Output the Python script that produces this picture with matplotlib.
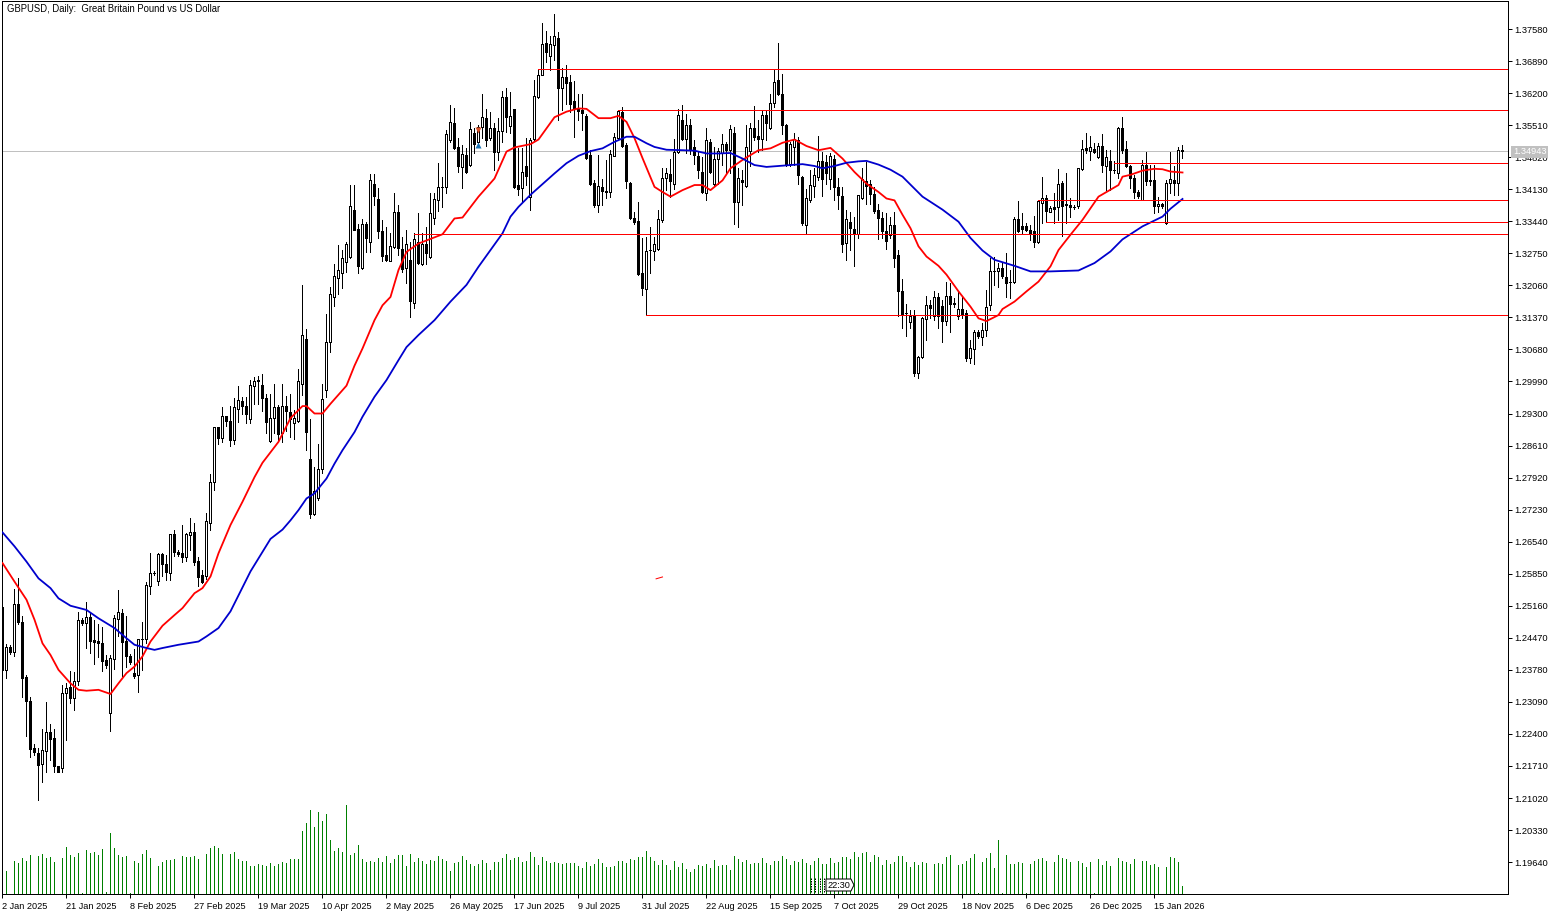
import matplotlib
matplotlib.use("Agg")
import matplotlib.pyplot as plt
from matplotlib.patches import Polygon
from matplotlib.transforms import IdentityTransform

W, H = 1561, 915
plt.rcParams['font.family'] = ['Liberation Sans', 'DejaVu Sans']

title = "GBPUSD, Daily:  Great Britain Pound vs US Dollar"

opens = [
1.2513,1.2377,1.2427,1.2416,1.2519,1.2481,1.2362,1.2310,1.2210,1.2198,
1.2176,1.2204,1.2244,1.2231,1.2170,1.2166,1.2328,1.2340,1.2317,1.2353,
1.2486,1.2478,1.2491,1.2442,1.2440,1.2435,1.2399,1.2285,1.2401,1.2487,
1.2501,1.2441,1.2408,1.2371,1.2366,1.2444,1.2445,1.2559,1.2586,1.2570,
1.2628,1.2606,1.2586,1.2670,1.2631,1.2629,1.2622,1.2669,1.2674,1.2613,
1.2583,1.2580,1.2695,1.2783,1.2900,1.2877,1.2924,1.2913,1.2872,1.2940,
1.2956,1.2946,1.2918,1.2990,1.3002,1.2991,1.2964,1.2871,1.2921,1.2943,
1.2887,1.2946,1.2933,1.2910,1.2914,1.2994,1.3090,1.2831,1.2714,1.2749,
1.2811,1.2980,1.3085,1.3180,1.3221,1.3233,1.3257,1.3266,1.3368,1.3328,
1.3244,1.3338,1.3300,1.3425,1.3392,1.3323,1.3271,1.3259,1.3289,1.3364,
1.3285,1.3244,1.3260,1.3167,1.3300,1.3252,1.3296,1.3266,1.3352,1.3390,
1.3417,1.3418,1.3520,1.3555,1.3503,1.3460,1.3487,1.3465,1.3533,1.3515,
1.3548,1.3566,1.3524,1.3544,1.3494,1.3539,1.3611,1.3550,1.3586,1.3422,
1.3415,1.3462,1.3397,1.3521,1.3612,1.3658,1.3727,1.3700,1.3724,1.3738,
1.3630,1.3654,1.3643,1.3603,1.3587,1.3584,1.3571,1.3487,1.3426,1.3378,
1.3418,1.3409,1.3408,1.3485,1.3523,1.3580,1.3508,1.3426,1.3352,1.3344,
1.3232,1.3199,1.3283,1.3280,1.3285,1.3346,1.3438,1.3445,1.3425,1.3493,
1.3563,1.3521,1.3551,1.3503,1.3484,1.3449,1.3405,1.3515,1.3425,1.3477,
1.3490,1.3511,1.3497,1.3533,1.3386,1.3432,1.3420,1.3496,1.3544,1.3527,
1.3521,1.3572,1.3545,1.3598,1.3648,1.3619,1.3552,1.3467,1.3504,1.3519,
1.3440,1.3336,1.3389,1.3420,1.3440,1.3473,1.3472,1.3436,1.3479,1.3417,
1.3398,1.3298,1.3343,1.3328,1.3316,1.3395,1.3431,1.3424,1.3402,1.3368,
1.3350,1.3323,1.3314,1.3335,1.3272,1.3193,1.3146,1.3126,1.3141,1.3018,
1.3051,1.3134,1.3164,1.3139,1.3180,1.3162,1.3130,1.3184,1.3169,1.3140,
1.3155,1.3146,1.3049,1.3069,1.3106,1.3094,1.3109,1.3163,1.3237,1.3236,
1.3244,1.3223,1.3213,1.3213,1.3348,1.3334,1.3334,1.3326,1.3324,1.3300,
1.3384,1.3394,1.3365,1.3374,1.3374,1.3427,1.3380,1.3378,1.3374,1.3377,
1.3456,1.3501,1.3496,1.3499,1.3483,1.3506,1.3463,1.3474,1.3455,1.3448,
1.3544,1.3499,1.3463,1.3437,1.3408,1.3390,1.3465,1.3433,1.3433,1.3376,
1.3381,1.3341,1.3427,1.3433,1.3426,1.3498]

highs = [
1.2513,1.2434,1.2432,1.2552,1.2575,1.2493,1.2367,1.2320,1.2219,1.2209,
1.2250,1.2308,1.2262,1.2250,1.2170,1.2346,1.2349,1.2376,1.2374,1.2502,
1.2489,1.2524,1.2500,1.2486,1.2477,1.2470,1.2410,1.2410,1.2496,1.2550,
1.2509,1.2493,1.2412,1.2422,1.2444,1.2482,1.2567,1.2629,1.2590,1.2629,
1.2629,1.2626,1.2670,1.2679,1.2635,1.2690,1.2672,1.2705,1.2694,1.2622,
1.2593,1.2715,1.2799,1.2900,1.2901,1.2943,1.2924,1.2946,1.2964,1.2989,
1.2966,1.2966,1.3002,1.3009,1.3010,1.3015,1.2971,1.2973,1.2993,1.2948,
1.2993,1.2967,1.2971,1.2938,1.3025,1.3206,1.3113,1.2919,1.2814,1.2864,
1.2994,1.3145,1.3203,1.3252,1.3292,1.3282,1.3300,1.3422,1.3422,1.3339,
1.3348,1.3343,1.3445,1.3445,1.3415,1.3346,1.3332,1.3318,1.3404,1.3379,
1.3310,1.3325,1.3300,1.3318,1.3361,1.3318,1.3332,1.3404,1.3404,1.3469,
1.3440,1.3541,1.3594,1.3587,1.3523,1.3508,1.3501,1.3558,1.3544,1.3552,
1.3618,1.3585,1.3580,1.3555,1.3566,1.3625,1.3632,1.3623,1.3586,1.3501,
1.3501,1.3523,1.3523,1.3648,1.3671,1.3770,1.3754,1.3742,1.3790,1.3752,
1.3675,1.3680,1.3659,1.3647,1.3619,1.3619,1.3576,1.3497,1.3433,1.3487,
1.3436,1.3476,1.3497,1.3535,1.3584,1.3589,1.3512,1.3429,1.3365,1.3386,
1.3307,1.3311,1.3332,1.3311,1.3368,1.3458,1.3458,1.3477,1.3522,1.3585,
1.3595,1.3575,1.3565,1.3519,1.3493,1.3483,1.3544,1.3522,1.3504,1.3501,
1.3532,1.3515,1.3551,1.3547,1.3458,1.3455,1.3551,1.3556,1.3592,1.3562,
1.3583,1.3583,1.3619,1.3669,1.3727,1.3661,1.3554,1.3515,1.3534,1.3526,
1.3441,1.3414,1.3454,1.3458,1.3527,1.3493,1.3486,1.3490,1.3486,1.3438,
1.3418,1.3368,1.3364,1.3353,1.3400,1.3458,1.3472,1.3432,1.3418,1.3382,
1.3364,1.3361,1.3353,1.3364,1.3282,1.3219,1.3166,1.3153,1.3153,1.3054,
1.3137,1.3182,1.3175,1.3193,1.3189,1.3175,1.3214,1.3211,1.3178,1.3193,
1.3182,1.3153,1.3089,1.3110,1.3110,1.3124,1.3196,1.3265,1.3268,1.3254,
1.3254,1.3275,1.3239,1.3354,1.3387,1.3361,1.3340,1.3336,1.3356,1.3390,
1.3440,1.3401,1.3376,1.3404,1.3456,1.3430,1.3448,1.3394,1.3379,1.3458,
1.3519,1.3534,1.3527,1.3512,1.3512,1.3532,1.3498,1.3498,1.3473,1.3548,
1.3568,1.3516,1.3465,1.3444,1.3412,1.3476,1.3494,1.3465,1.3465,1.3397,
1.3384,1.3432,1.3494,1.3462,1.3504,1.3509]

lows = [
1.2378,1.2361,1.2412,1.2408,1.2477,1.2320,1.2236,1.2191,1.2195,1.2098,
1.2137,1.2157,1.2184,1.2159,1.2159,1.2159,1.2227,1.2306,1.2292,1.2346,
1.2475,1.2426,1.2414,1.2391,1.2405,1.2376,1.2381,1.2247,1.2379,1.2450,
1.2364,1.2385,1.2391,1.2361,1.2331,1.2378,1.2435,1.2542,1.2582,1.2561,
1.2580,1.2572,1.2572,1.2623,1.2623,1.2611,1.2613,1.2635,1.2604,1.2559,
1.2566,1.2573,1.2679,1.2765,1.2864,1.2869,1.2903,1.2859,1.2865,1.2912,
1.2930,1.2910,1.2910,1.2950,1.2951,1.2936,1.2887,1.2869,1.2887,1.2871,
1.2869,1.2893,1.2880,1.2876,1.2912,1.2969,1.2851,1.2706,1.2711,1.2743,
1.2802,1.2966,1.3063,1.3161,1.3188,1.3201,1.3235,1.3264,1.3325,1.3233,
1.3242,1.3278,1.3278,1.3379,1.3307,1.3259,1.3259,1.3259,1.3287,1.3271,
1.3235,1.3210,1.3138,1.3158,1.3251,1.3250,1.3253,1.3264,1.3339,1.3366,
1.3375,1.3404,1.3515,1.3499,1.3449,1.3415,1.3447,1.3462,1.3492,1.3505,
1.3523,1.3507,1.3519,1.3454,1.3476,1.3515,1.3537,1.3533,1.3415,1.3400,
1.3386,1.3422,1.3368,1.3519,1.3609,1.3658,1.3688,1.3670,1.3691,1.3562,
1.3584,1.3597,1.3580,1.3526,1.3562,1.3540,1.3479,1.3422,1.3375,1.3365,
1.3379,1.3395,1.3397,1.3484,1.3520,1.3503,1.3416,1.3349,1.3339,1.3228,
1.3185,1.3142,1.3232,1.3260,1.3282,1.3343,1.3411,1.3397,1.3414,1.3491,
1.3519,1.3490,1.3488,1.3467,1.3438,1.3404,1.3389,1.3448,1.3422,1.3425,
1.3465,1.3447,1.3447,1.3339,1.3332,1.3379,1.3418,1.3463,1.3519,1.3493,
1.3497,1.3519,1.3542,1.3590,1.3616,1.3531,1.3463,1.3463,1.3465,1.3425,
1.3336,1.3319,1.3386,1.3397,1.3432,1.3398,1.3425,1.3414,1.3389,1.3371,
1.3278,1.3260,1.3282,1.3247,1.3309,1.3393,1.3382,1.3382,1.3361,1.3305,
1.3309,1.3285,1.3307,1.3246,1.3139,1.3114,1.3096,1.3114,1.3011,1.3007,
1.3049,1.3089,1.3135,1.3132,1.3114,1.3085,1.3121,1.3106,1.3160,1.3133,
1.3135,1.3042,1.3038,1.3037,1.3092,1.3078,1.3096,1.3153,1.3207,1.3203,
1.3221,1.3180,1.3178,1.3211,1.3320,1.3317,1.3322,1.3304,1.3288,1.3298,
1.3340,1.3343,1.3363,1.3340,1.3347,1.3313,1.3341,1.3354,1.3370,1.3372,
1.3455,1.3492,1.3476,1.3491,1.3480,1.3449,1.3412,1.3412,1.3448,1.3437,
1.3491,1.3460,1.3415,1.3394,1.3394,1.3389,1.3422,1.3422,1.3361,1.3365,
1.3372,1.3338,1.3404,1.3401,1.3401,1.3480]

closes = [
1.2378,1.2427,1.2417,1.2519,1.2480,1.2361,1.2310,1.2208,1.2202,1.2173,
1.2205,1.2244,1.2230,1.2170,1.2159,1.2328,1.2338,1.2317,1.2353,1.2486,
1.2478,1.2491,1.2441,1.2438,1.2435,1.2398,1.2388,1.2403,1.2489,1.2502,
1.2439,1.2407,1.2395,1.2364,1.2444,1.2444,1.2561,1.2586,1.2586,1.2627,
1.2606,1.2588,1.2670,1.2631,1.2628,1.2622,1.2671,1.2674,1.2611,1.2579,
1.2567,1.2699,1.2783,1.2900,1.2877,1.2924,1.2913,1.2874,1.2943,1.2960,
1.2946,1.2929,1.2991,1.3001,1.2999,1.2963,1.2912,1.2921,1.2943,1.2885,
1.2947,1.2936,1.2919,1.2921,1.2999,1.3098,1.2890,1.2714,1.2763,1.2811,
1.2962,1.3085,1.3188,1.3226,1.3240,1.3264,1.3295,1.3376,1.3326,1.3248,
1.3339,1.3307,1.3432,1.3398,1.3323,1.3269,1.3260,1.3290,1.3364,1.3287,
1.3242,1.3296,1.3173,1.3305,1.3254,1.3296,1.3276,1.3361,1.3393,1.3418,
1.3417,1.3531,1.3557,1.3501,1.3462,1.3488,1.3449,1.3542,1.3510,1.3548,
1.3568,1.3518,1.3544,1.3494,1.3538,1.3612,1.3568,1.3571,1.3418,1.3413,
1.3449,1.3442,1.3520,1.3614,1.3660,1.3725,1.3709,1.3725,1.3742,1.3632,
1.3654,1.3641,1.3597,1.3585,1.3582,1.3577,1.3481,1.3424,1.3378,1.3420,
1.3409,1.3406,1.3489,1.3526,1.3581,1.3506,1.3431,1.3350,1.3343,1.3230,
1.3201,1.3280,1.3283,1.3294,1.3348,1.3438,1.3447,1.3431,1.3494,1.3572,
1.3522,1.3551,1.3497,1.3486,1.3454,1.3407,1.3520,1.3450,1.3477,1.3496,
1.3511,1.3497,1.3542,1.3386,1.3438,1.3429,1.3504,1.3544,1.3526,1.3522,
1.3572,1.3556,1.3598,1.3644,1.3619,1.3552,1.3465,1.3511,1.3522,1.3443,
1.3341,1.3395,1.3423,1.3443,1.3473,1.3435,1.3447,1.3484,1.3417,1.3400,
1.3296,1.3348,1.3330,1.3316,1.3400,1.3434,1.3420,1.3402,1.3366,1.3352,
1.3323,1.3302,1.3335,1.3264,1.3193,1.3145,1.3146,1.3140,1.3018,1.3051,
1.3135,1.3163,1.3157,1.3180,1.3140,1.3130,1.3184,1.3166,1.3166,1.3155,
1.3145,1.3049,1.3071,1.3106,1.3096,1.3110,1.3160,1.3236,1.3237,1.3243,
1.3226,1.3212,1.3213,1.3349,1.3322,1.3328,1.3326,1.3317,1.3300,1.3387,
1.3394,1.3367,1.3372,1.3371,1.3425,1.3377,1.3380,1.3374,1.3374,1.3458,
1.3499,1.3498,1.3504,1.3494,1.3506,1.3465,1.3482,1.3455,1.3455,1.3544,
1.3498,1.3462,1.3437,1.3406,1.3399,1.3465,1.3430,1.3430,1.3376,1.3382,
1.3376,1.3427,1.3435,1.3426,1.3498,1.3495]

volumes = [
30,27,0,38,36,42,38,45,0,44,46,42,43,37,0,42,55,45,43,48,
1,51,48,49,45,52,2,71,53,45,43,44,1,38,36,46,51,42,0,32,
37,40,40,41,0,44,43,43,44,41,0,46,53,56,53,46,0,46,49,41,
38,38,32,32,35,34,32,36,32,35,37,36,41,41,41,73,82,98,78,95,
85,93,63,50,53,49,103,45,48,57,41,37,38,37,42,37,44,36,41,45,
45,33,46,37,42,38,35,40,38,44,41,38,27,36,37,44,40,35,33,35,
40,36,28,37,37,42,46,40,42,43,37,38,49,43,34,43,38,36,37,36,
35,36,36,36,33,30,37,33,35,41,36,31,31,32,38,38,36,41,40,43,
43,50,43,38,34,40,34,28,38,31,36,29,26,29,34,32,35,30,40,32,
34,34,28,44,41,37,40,35,36,36,42,36,34,38,38,44,41,34,38,37,
41,36,34,38,42,35,35,42,36,37,43,43,41,49,43,48,49,37,45,43,
34,40,35,37,44,44,37,31,37,34,37,36,0,35,36,35,43,45,0,34,
35,38,42,47,1,37,42,48,30,63,1,45,35,35,37,36,1,35,38,41,
42,38,0,37,45,42,41,37,0,38,36,31,37,1,41,34,38,32,0,42,
38,37,35,41,0,38,38,34,35,31,0,31,43,42,37,9]

fast_slots = [0,3,6,8,10,12,14,17,19,21,24,27,29,31,33,35,37,40,43,45,48,50,52,54,57,60,63,65,69,72,75,76,78,80,82,86,88,90,93,95,97,99,101,104,
110,113,115,119,123,126,128,132,134,138,141,144,146,149,152,154,156,158,160,163,165,167,170,173,175,177,180,182,185,189,192,195,198,201,204,207,210,213,216,219,221,223,225,227,229,231,234,236,239,242,244,246,249,250,253,256,259,262,264,267,270,274,279,280,282,285,288,290,292,295]
fast_ma = [1.2608,1.2568,1.2529,1.2486,1.2435,1.2410,1.2378,1.2349,1.2335,1.2333,1.2335,1.2326,1.2349,1.2371,1.2385,1.2407,1.2439,1.2473,1.2496,1.2511,1.2543,1.2554,1.2579,1.2629,1.2690,1.2740,1.2793,1.2824,1.2869,1.2920,1.2946,1.2946,1.2930,1.2930,1.2951,1.2990,1.3033,1.3070,1.3131,1.3163,1.3181,1.3239,1.3278,1.3296,
1.3316,1.3350,1.3352,1.3397,1.3436,1.3494,1.3503,1.3510,1.3520,1.3568,1.3580,1.3587,1.3586,1.3566,1.3566,1.3571,1.3558,1.3523,1.3480,1.3418,1.3407,1.3397,1.3411,1.3422,1.3422,1.3411,1.3432,1.3458,1.3476,1.3497,1.3501,1.3513,1.3520,1.3506,1.3497,1.3502,1.3479,1.3450,1.3425,1.3407,1.3393,1.3389,1.3358,1.3329,1.3290,1.3268,1.3248,1.3229,1.3193,1.3160,1.3135,1.3129,1.3142,1.3155,1.3171,1.3193,1.3214,1.3247,1.3282,1.3315,1.3347,1.3397,1.3422,1.3440,1.3444,1.3453,1.3457,1.3456,1.3451,1.3449]

slow_slots = [0,3,6,9,12,14,17,21,24,28,31,33,36,38,40,44,49,51,54,57,62,67,70,72,74,76,78,81,83,85,88,90,93,96,99,101,104,108,112,116,119,122,125,127,129,132,135,138,141,144,147,150,153,156,158,161,163,166,170,173,176,179,182,185,188,191,194,197,200,203,205,208,211,214,216,219,222,225,230,235,239,242,245,248,253,257,262,269,273,277,280,285,290,292,295]
slow_ma = [1.2674,1.2644,1.2611,1.2575,1.2554,1.2532,1.2516,1.2507,1.2489,1.2468,1.2446,1.2432,1.2425,1.2421,1.2425,1.2432,1.2439,1.2450,1.2468,1.2504,1.2590,1.2660,1.2680,1.2700,1.2722,1.2747,1.2758,1.2790,1.2822,1.2851,1.2890,1.2923,1.2966,1.3002,1.3045,1.3073,1.3099,1.3131,1.3171,1.3207,1.3246,1.3282,1.3318,1.3354,1.3375,1.3401,1.3424,1.3447,1.3469,1.3485,1.3495,1.3501,1.3515,1.3526,1.3526,1.3512,1.3504,1.3498,1.3497,1.3496,1.3490,1.3490,1.3491,1.3479,1.3465,1.3461,1.3463,1.3465,1.3467,1.3463,1.3458,1.3463,1.3470,1.3473,1.3474,1.3466,1.3455,1.3440,1.3397,1.3369,1.3343,1.3308,1.3281,1.3261,1.3248,1.3236,1.3236,1.3238,1.3254,1.3279,1.3305,1.3333,1.3354,1.3371,1.3392]

# start slot and price of each horizontal level
level_slots = [134,154,103,161,278,259,261]
level_prices = [1.3672,1.3584,1.3317,1.3142,1.3469,1.3390,1.3342]

last_price = 1.34943
last_price_label = "1.34943"

tick_prices = [round(1.1964 + 0.0069*k, 4) for k in range(27)]
date_labels = ["2 Jan 2025","21 Jan 2025","8 Feb 2025","27 Feb 2025","19 Mar 2025","10 Apr 2025",
               "2 May 2025","26 May 2025","17 Jun 2025","9 Jul 2025","31 Jul 2025","22 Aug 2025",
               "15 Sep 2025","7 Oct 2025","29 Oct 2025","18 Nov 2025","6 Dec 2025","26 Dec 2025","15 Jan 2026"]
date_slots = [16*k for k in range(len(date_labels))]

fig = plt.figure(figsize=(W/100, H/100), dpi=100, facecolor='white')
pos = [2/W, (H-894)/H, 1506/W, 893/H]
vax = fig.add_axes(pos, zorder=1)
ax = fig.add_axes(pos, zorder=2, facecolor='none')
XLIM = (-0.125, 376.375)
ax.set_xlim(*XLIM)
ax.set_ylim(1.18953, 1.38183)
vax.set_xlim(*XLIM)
vax.set_ylim(0, 893/0.86)
vax.axis('off')

n = len(closes)
xs = list(range(n))
vax.vlines(xs, 0, volumes, color='#008000', lw=0.72, antialiased=False)

LW = 0.72
ax.axhline(last_price, color='#c0c0c0', lw=LW, zorder=1, antialiased=False)
ax.vlines(xs, lows, highs, color='black', lw=LW, zorder=2, antialiased=False)
bottoms = [min(o, c) for o, c in zip(opens, closes)]
heights = [max(abs(c-o), 1e-5) for o, c in zip(opens, closes)]
fills = ['white' if c > o else 'black' for o, c in zip(opens, closes)]
ax.bar(xs, heights, bottom=bottoms, width=0.5, color=fills, edgecolor='black', lw=LW, zorder=3, antialiased=False)

ax.plot(fast_slots, fast_ma, color='#ff0000', lw=1.3, zorder=4, solid_joinstyle='round')
ax.plot(slow_slots, slow_ma, color='#0000cd', lw=1.3, zorder=4, solid_joinstyle='round')

right = XLIM[1]
ax.hlines(level_prices, level_slots, right, color='#ff0000', lw=LW, zorder=5, antialiased=False)
ax.plot([163.4, 165], [1.2574, 1.2578], color='#ff0000', lw=LW, zorder=5)

ax.plot([119], [1.3541], marker='v', ms=4.5, color='#d9542b', mec='none', zorder=6)
ax.plot([119], [1.3508], marker='^', ms=4.5, color='#1b75b5', mec='none', zorder=6)

ax.yaxis.tick_right()
ax.set_yticks(tick_prices)
ax.set_yticklabels([f"{p:.5f}" for p in tick_prices])
ax.set_xticks(date_slots)
ax.set_xticklabels(date_labels, ha='left')
ax.tick_params(axis='y', length=3.0, width=LW, labelsize=6.7, pad=1.8, color='black')
ax.tick_params(axis='x', length=3.0, width=LW, labelsize=6.6, pad=2.5, color='black')
for s in ax.spines.values():
    s.set_linewidth(LW)
    s.set_color('black')

fig.text(7/W, (H-9)/H, title, fontsize=6.85, va='center', ha='left', color='black', zorder=20)

fig.text(1513/W, (H-152)/H, last_price_label, fontsize=6.7, color='white', va='center', ha='left', zorder=20,
         bbox=dict(boxstyle='square,pad=0.2', fc='#c0c0c0', ec='none'))

# session clock tag near the bottom of the chart
idt = IdentityTransform()
for px in (811, 815, 820, 824):
    fig.add_artist(plt.Line2D([px, px], [H-878, H-893], transform=idt, color='black', lw=LW, ls=(0, (1.5, 1)), zorder=10))
fig.add_artist(Polygon([(826, H-879), (851, H-879), (854, H-885), (851, H-891), (826, H-891)], closed=True,
                       transform=idt, fc='white', ec='black', lw=LW, zorder=11))
fig.text(838.5/W, (H-885)/H, "22:30", fontsize=6.6, va='center', ha='center', zorder=12)

fig.savefig("out.png", dpi=100)
